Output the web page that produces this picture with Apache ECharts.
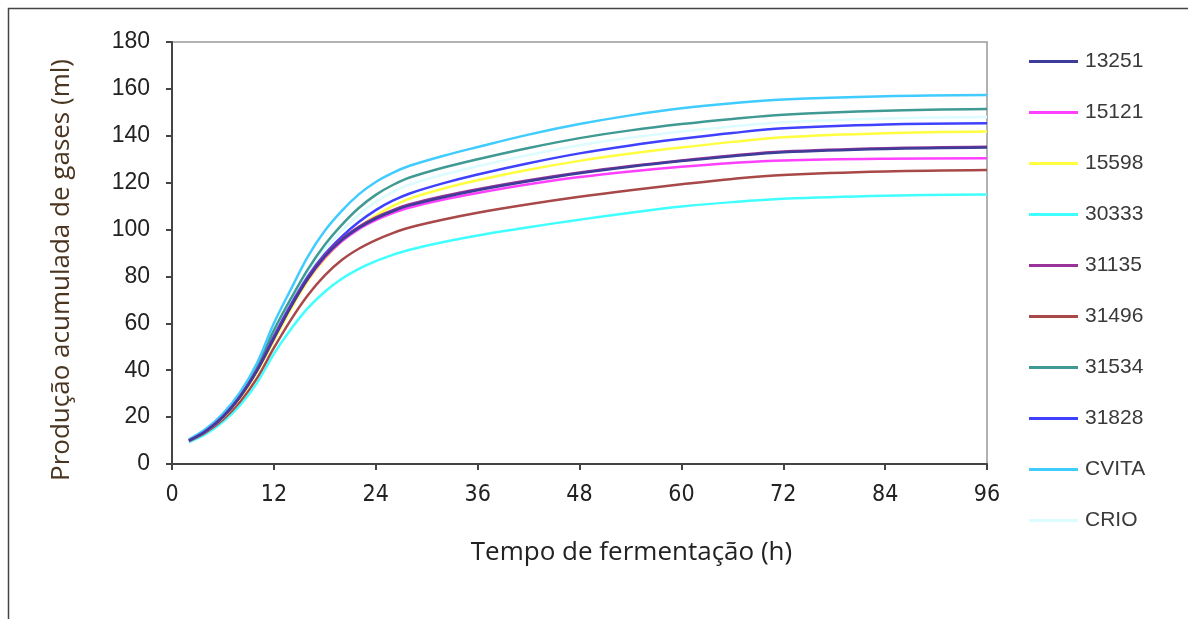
<!DOCTYPE html>
<html>
<head>
<meta charset="utf-8">
<script src="https://cdn.jsdelivr.net/npm/echarts@6/dist/echarts.min.js"></script>
<style>
  html, body { margin: 0; padding: 0; background: #fff; }
  #chart { width: 1188px; height: 619px; }
</style>
</head>
<body>
<div id="chart"></div>
<script>
// tempo de fermentação (h)
var hours = [2, 4, 6, 8, 10, 12, 14, 16, 18, 20, 22, 24, 26, 28, 32, 36, 42, 48, 54, 60, 66, 72, 84, 96];

// produção acumulada de gases (ml)
var s13251 = [10, 14, 20, 28.5, 39.7, 53.5, 67, 79, 88.5, 95.5, 100.7, 104.7, 107.8, 110.3, 113.8, 116.8, 120.6, 124, 126.8, 129.2, 131.3, 133, 134.4, 135];
var s15121 = [10, 14, 20, 28.5, 39.7, 53.5, 67, 78.8, 88, 95, 100.2, 104, 107, 109.4, 112.8, 115.6, 119.3, 122.4, 124.8, 126.8, 128.4, 129.5, 130.2, 130.4];
var s15598 = [10, 14, 19.8, 28, 39, 52.5, 66, 78, 87.5, 95, 101, 106, 110, 113.2, 117.5, 121, 125.5, 129.3, 132.4, 135, 137.4, 139.4, 141.1, 141.8];
var s30333 = [9.3, 12.8, 18, 25, 34.5, 47, 57.5, 66.5, 73.5, 79, 83.2, 86.5, 89.2, 91.4, 94.7, 97.5, 101, 104.2, 107.2, 109.8, 111.7, 113.1, 114.4, 115];
var s31135 = [10, 14.1, 20.2, 28.8, 40, 54, 67.5, 79.5, 89, 96, 101.2, 105.2, 108.3, 110.8, 114.3, 117.2, 121, 124.3, 127.1, 129.5, 131.6, 133.3, 134.7, 135.3];
var s31496 = [9.8, 13.6, 19, 26.5, 36.5, 49.5, 61.5, 72, 80.5, 87, 91.8, 95.5, 98.5, 100.9, 104.3, 107.2, 110.8, 114, 116.8, 119.3, 121.6, 123.3, 124.8, 125.4];
var s31534 = [10.3, 14.6, 21, 29.5, 41.5, 57, 70.5, 83, 93.5, 102, 109.2, 114.8, 119, 122.2, 126.5, 130, 134.8, 139, 142.3, 145, 147.2, 149, 150.7, 151.4];
var s31828 = [10, 14.2, 20.3, 28.7, 40, 54.5, 68, 80, 89.5, 97, 103.2, 108.3, 112.3, 115.4, 119.8, 123.5, 128.3, 132.5, 135.9, 138.7, 141.2, 143.2, 144.8, 145.3];
var sCVITA = [10.5, 15, 21.5, 30.5, 43, 60, 74.5, 88.5, 99.5, 108, 115, 120.3, 124.2, 127.2, 131.5, 135.2, 140.5, 145, 148.7, 151.7, 153.9, 155.5, 156.9, 157.4];
var sCRIO  = [10.2, 14.4, 20.7, 29, 40.5, 55.5, 69, 81.5, 91.5, 99.5, 106.3, 111.8, 116, 119.2, 123.5, 127, 131.8, 136, 139.2, 141.8, 144, 145.8, 147.4, 148];

var names = ["13251", "15121", "15598", "30333", "31135", "31496", "31534", "31828", "CVITA", "CRIO"];
var values = [s13251, s15121, s15598, s30333, s31135, s31496, s31534, s31828, sCVITA, sCRIO];
var colors = ["#3d3d99", "#ff40ff", "#ffff40", "#40ffff", "#993399", "#a84848", "#409a94", "#4040ff", "#40ccff", "#ddfcff"];

// ordem de desenho: as de baixo primeiro
var drawOrder = [9, 3, 5, 2, 6, 8, 7, 1, 4, 0];

var series = [];
for (var k = 0; k < drawOrder.length; k++) {
  var i = drawOrder[k];
  var pts = [];
  for (var j = 0; j < hours.length; j++) {
    pts.push([hours[j], values[i][j]]);
  }
  series.push({
    name: names[i],
    type: "line",
    data: pts,
    smooth: 0.35,
    symbol: "none",
    color: colors[i],
    lineStyle: { width: 2.5, color: colors[i] },
    z: 2 + k
  });
}

var chart = echarts.init(document.getElementById("chart"));
chart.setOption({
  backgroundColor: "#fff",
  animation: false,
  graphic: [{
    type: "rect",
    left: 6, top: 6,
    shape: { width: 1200, height: 700 },
    style: { fill: "none", stroke: "#444", lineWidth: 1.5 },
    silent: true
  }],
  grid: { left: 172, right: 201, top: 42, bottom: 155, show: true, borderColor: "#999", borderWidth: 1.5 },
  legend: {
    data: names,
    orient: "vertical",
    left: 1024,
    top: 46,
    icon: "rect",
    itemWidth: 49,
    itemHeight: 3,
    itemGap: 30,
    textStyle: { fontFamily: "Liberation Sans", fontSize: 21, color: "#3a3a3a", lineHeight: 20, padding: [0, 0, 0, 2] }
  },
  xAxis: {
    type: "value",
    min: 0, max: 96, interval: 12,
    name: "Tempo de fermentação (h)",
    nameLocation: "middle",
    nameGap: 76,
    nameTextStyle: { fontFamily: "Open Sans", fontSize: 26, color: "#222", padding: [0, 0, 0, 104] },
    axisLine: { lineStyle: { color: "#444", width: 2 } },
    axisTick: { show: true, length: 6, lineStyle: { color: "#444", width: 2 } },
    axisLabel: { fontFamily: "'Liberation Sans Narrow', 'DejaVu Sans Condensed', 'Liberation Sans', sans-serif", fontSize: 23, color: "#222", margin: 20 },
    splitLine: { show: false }
  },
  yAxis: {
    type: "value",
    min: 0, max: 180, interval: 20,
    name: "Produção acumulada de gases (ml)",
    nameLocation: "middle",
    nameRotate: 90,
    nameGap: 97,
    nameTextStyle: { fontFamily: "Open Sans", fontSize: 26, color: "#4a3520", padding: [0, 34, 0, 0] },
    axisLine: { show: true, lineStyle: { color: "#444", width: 2 } },
    axisTick: { show: true, length: 6, lineStyle: { color: "#444", width: 2 } },
    axisLabel: { fontFamily: "Liberation Sans", fontSize: 23, color: "#222", margin: 22 },
    splitLine: { show: false }
  },
  series: series
});
</script>
</body>
</html>
